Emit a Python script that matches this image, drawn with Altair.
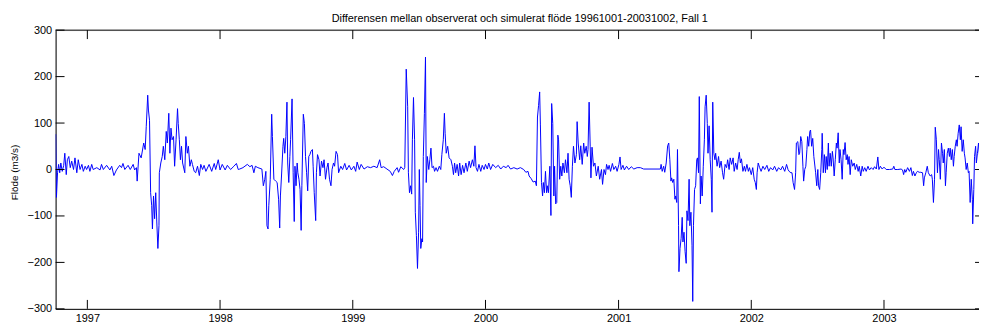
import altair as alt
import pandas as pd

chart_title = "Differensen mellan observerat och simulerat flöde 19961001-20031002, Fall 1"
y_label = "Flöde (m3/s)"
start_date = "1996-10-01"

# days since 1996-10-01
day_offsets = [
    5, 7, 10, 13, 16, 19, 23, 27, 30, 34, 37, 41, 45, 49, 54, 58, 63, 67, 72, 77, 81, 86, 90, 95, 99, 104, 108, 118, 127, 131,
    136, 145, 154, 159, 165, 172, 181, 186, 190, 195, 204, 210, 218, 222, 227, 229, 234, 240, 247, 251, 254, 258, 260, 263, 266,
    269, 271, 274, 277, 280, 283, 286, 289, 290, 294, 298, 301, 305, 309, 312, 316, 319, 322, 325, 329, 332, 336, 340, 342, 345,
    348, 351, 354, 360, 363, 367, 370, 374, 378, 381, 386, 390, 395, 400, 404, 409, 413, 418, 427, 434, 441, 445, 452, 457, 463,
    471, 477, 486, 495, 502, 507,
    511, 520, 532, 539, 545, 550, 554, 561, 572, 576, 580, 583, 586, 589, 591, 595, 599, 601, 605, 610, 614, 618, 621, 623, 626,
    630, 632, 635, 638, 641, 643, 646, 649, 651, 655, 658, 661, 663, 666, 669, 671, 674, 677, 680, 682, 686, 689, 692, 695, 698,
    701, 704, 707, 711, 713, 716, 720, 722, 725, 729, 732, 736, 740, 743, 747, 751, 754, 758, 762, 765, 769, 772, 776, 780, 783,
    789, 794, 800, 805, 812, 818, 825, 830, 834, 840, 845, 853, 862, 871, 880, 889, 896, 900, 907, 916, 925, 931, 936, 944, 948,
    954, 962, 965, 969, 973, 975, 978, 981, 984, 986, 989, 992, 994, 997, 1000, 1003, 1005, 1007, 1009, 1012, 1014, 1016, 1019,
    1022, 1024,
    1027, 1031, 1034, 1037, 1040, 1044, 1047, 1051, 1055, 1060, 1064, 1067, 1071, 1074, 1076, 1079, 1083, 1087, 1092, 1096, 1099,
    1102, 1105, 1109, 1113, 1116, 1120, 1124, 1128, 1133, 1137, 1142, 1146, 1151, 1155, 1158, 1161, 1165, 1169, 1174, 1178, 1183,
    1187, 1192, 1196, 1201, 1207, 1215, 1222, 1229, 1236, 1244, 1249, 1256, 1265, 1274, 1283, 1292, 1298, 1304, 1307, 1313, 1318,
    1324, 1327, 1330, 1333, 1336, 1338, 1341, 1344, 1346, 1349, 1352, 1355, 1357, 1360, 1364, 1367, 1369, 1372, 1375, 1377, 1380,
    1383, 1386, 1388, 1391, 1394, 1397, 1400, 1404, 1407, 1411, 1414, 1417, 1420, 1423, 1426, 1429, 1433, 1437, 1439, 1442, 1446,
    1449, 1453, 1457, 1460, 1464, 1467, 1469, 1472, 1475, 1477, 1480, 1484, 1488, 1492, 1497, 1501, 1506, 1509, 1513, 1517, 1520,
    1524,
    1527, 1531, 1536, 1540, 1545, 1549, 1554, 1557, 1560, 1565, 1569, 1575, 1581, 1588, 1595, 1604, 1613, 1622, 1668, 1670, 1673,
    1677, 1680, 1684, 1688, 1691, 1694, 1697, 1699, 1702, 1705, 1708, 1710, 1713, 1715, 1718, 1719, 1722, 1725, 1728, 1730, 1733,
    1736, 1739, 1741, 1744, 1747, 1749, 1752, 1755, 1757, 1759, 1762, 1765, 1768, 1770, 1773, 1775, 1778, 1780, 1783, 1786, 1789,
    1791, 1794, 1797, 1799, 1802, 1805, 1808, 1810, 1812, 1815, 1818, 1820, 1824, 1828, 1831, 1835, 1839, 1842, 1846, 1850, 1853,
    1857, 1860, 1864, 1868, 1871, 1875, 1879, 1882, 1885, 1888, 1891, 1895, 1899, 1902, 1906, 1910, 1913, 1918, 1922, 1926, 1929,
    1932, 1934, 1937, 1941, 1945, 1950, 1955, 1961, 1966, 1971, 1977, 1982, 1988, 1993, 1999, 2004, 2010, 2015, 2019, 2022, 2027,
    2030, 2033, 2037, 2040, 2042, 2046, 2049, 2051, 2054, 2057, 2060, 2062, 2065, 2068, 2071, 2073, 2076, 2079, 2081, 2084, 2087,
    2090, 2092, 2095, 2098, 2101, 2103, 2106, 2109, 2112, 2113, 2116, 2119, 2122, 2124, 2127, 2130, 2132, 2135, 2138, 2141, 2143,
    2146, 2149, 2152, 2154, 2157, 2160, 2162, 2165, 2168, 2171, 2173, 2176, 2179, 2182, 2184, 2187, 2190, 2193, 2197, 2201, 2204,
    2208, 2212, 2215, 2219, 2223, 2226, 2230, 2234, 2239, 2243, 2248, 2253, 2257, 2262, 2266, 2269, 2273, 2278, 2283, 2289, 2298,
    2307, 2310, 2313, 2321, 2330, 2334, 2337, 2340, 2343, 2348, 2353, 2357, 2361, 2364, 2368, 2372, 2375, 2380, 2384, 2389, 2392,
    2394, 2398, 2402, 2405, 2410, 2414, 2416, 2419, 2422, 2424, 2427, 2430, 2433, 2435, 2438, 2441, 2444, 2446, 2449, 2452, 2454,
    2457, 2460, 2463, 2465, 2468, 2471, 2474, 2476, 2479, 2482, 2484, 2487, 2490, 2493, 2495, 2498, 2501, 2504, 2506, 2509, 2512,
    2515, 2517, 2520, 2523, 2526, 2527, 2530, 2532, 2535, 2537, 2540, 2543, 2546, 2550, 2556,
]

# observed - simulated flow (m3/s)
diff_values = [
    76, -60, -7, 11, -7, 14, -4, 9, 35, -11, 21, 28, 4, 18, 0, 25, -7, 21, 0, 11, -4, 7, 0, 9, -4, 11, 0, 4, -1, 11,
    0, 9, -1, 7, -13, -1, 9, 4, 13, 0, 9, 0, 11, -1, 4, -25, 35, 25, 57, 43, 92, 160, 128, 106, -50,
    -78, -128, -57, -106, -50, -113, -170, -121, -7, 14, 28, 50, 21, 82, 57, 121, 35, 89, 64, 71, 7, 64, 131, 99, 64,
    21, 50, 14, -7, 71, 35, 50, 7, 21, 11, -4, -7, 7, -13, 11, 0, 9, -4, 11, -4, 13, 0, 21, -1, 11,
    -1, 9, 0, 7, 13, 0,
    1, 4, 11, 6, 9, -7, 7, 4, 1, -35, -21, -4, -121, -128, -78, -21, 119, 71, -21, -25, -28, -64, -126, -57, -14,
    50, 67, 35, 71, 145, 14, -28, 28, 64, 152, -7, -112, 7, -35, 14, -7, -21, -43, -131, -35, 119, 99, 28, -7, -46,
    28, 32, 39, 43, 7, -50, -110, -7, 32, 21, -14, 18, 4, 21, -21, 4, 14, -21, -35, 0, 14, 7, 39, 32, -7,
    7, 0, 13, -1, 9, -1, 7, -4, 16, 0, 11, 1, 6, 4, 7, 4, 21, 4, 6, 1, -4, -13, -4, 4, -6,
    6, 0, 4, 216, 135, -7, -50, -35, -53, 64, 155, 64, -92, -142, -213, -135, 0, -78, -170, -149, -156, 28, 121,
    242, -28,
    28, 0, 21, 46, 4, 7, -4, 4, -4, 7, 0, 32, 64, 121, 78, 35, 50, 25, 21, 7, -11,
    14, -7, 11, -14, 14, -11, 9, -7, 14, -4, 18, 4, 21, 7, 51, 4, -4, 11, -4, 9, 0,
    11, 1, 14, 0, 11, 4, 9, 1, 7, 4, 9, 1, 4, 1, 4, 0, -6, -4, -14, -20, -27,
    -25, -35, 113, 138, 167, 96, -28, -57, -28, -50, -4, -50, -35, -50, 7, -99, 142, 99, -57, 7, -74,
    -71, 74, 64, -21, 7, -14, 14, -7, 21, -7, 35, -21, -35, -60, 7, 50, 14, 32, 103, 57, 21,
    51, 11, 57, 35, 50, 28, 43, 145, 50, -18, 48, 7, 14, -14, 7, -21, 0, -32, 0, -11, 11,
    0,
    9, -4, 13, 0, 7, -4, 11, 27, 0, 9, -1, 7, 0, 6, 1, 4, 4, 1, 1, 11, -4,
    7, -6, 14, 51, 57, 21, -25, -18, -28, -21, -64, -57, -71, 43, -121, -220, -170, -149, -103, -156, -135,
    -177, -202, -89, -110, -21, -121, -92, -163, -284, -121, -43, -35, 21, 25, -7, 157, -74, -14, -57, 7, 64,
    135, 160, 99, 35, 94, 21, -21, -92, 145, 35, 21, 35, 7, 28, 4, 18, -7, -21, 11, 4, 21,
    0, 25, 11, 25, -4, 14, 0, 21, 37, 14, 23, -4, 7, -4, 11, -4, 4, -11, 4, -21, -28,
    -43, -7, 14, 4, -4, 7, 0, 9, -4, 4, -1, 7, -4, 4, -1, 7, -4, 11, 0, -4, -7,
    -7, -28, -43, -7, 57, 60, 32, 35, 71, 60, 7, -25, 0, 7, 43, 71, 50, 82, 85, 50, 67,
    28, 14, -7, -35, 0, -35, -43, -7, 43, 78, -7, 32, -7, 28, 0, 57, 7, 35, 7, 39, 25,
    -14, 21, 57, 46, 79, 14, 43, 21, -21, 43, 32, 58, 21, 32, 11, 28, -11, 21, 7, 14, 0,
    11, -4, 7, -14, 7, -4, 4, -4, 7, -1, 4, 0, 6, 1, 27, 0, 7, 1, 5, 0, 0,
    1, 7, 0, 0, 1, -1, -11, 0, -6, 4, -4, 4, -13, -4, -14, -7, -4, -6, -6, -7, -35,
    -18, -7, 7, -7, -14, -11, -21, -71, -21, 91, 64, -7, 43, 21, -21, 57, 35, 14, 43, -35, -7,
    35, 46, 28, 46, 21, 43, 7, 28, 50, 64, 50, 78, 96, 64, 92, 39, 64, 35, 25, 0, 14,
    -7, -4, -71, -21, -64, -117, -43, 28, 50, 14, 35, 57, 28, 55, 20,
]

year_ticks = [1997, 1998, 1999, 2000, 2001, 2002, 2003]
y_ticks = [-300, -200, -100, 0, 100, 200, 300]

W, H = 931, 281
FONT = "Liberation Sans"

base = pd.Timestamp(start_date)
df = pd.DataFrame({
    "date": [base + pd.Timedelta(days=d) for d in day_offsets],
    "diff": diff_values,
})
xt = pd.DataFrame({"date": [pd.Timestamp(f"{y}-01-01") for y in year_ticks]})
yt = pd.DataFrame({"diff": y_ticks})

x_scale = alt.Scale(
    domain=[alt.DateTime(year=1996, month=10, date=5, hours=17),
            alt.DateTime(year=2003, month=9, date=19, hours=7)],
    nice=False,
)
y_scale = alt.Scale(domain=[-300, 300], nice=False)


def x_enc():
    return alt.X("date:T", scale=x_scale, title=None,
                 axis=alt.Axis(values=[alt.DateTime(year=y, month=1, date=1) for y in year_ticks],
                               format="%Y", labelOverlap=False))


def y_enc():
    return alt.Y("diff:Q", scale=y_scale, title=y_label,
                 axis=alt.Axis(values=y_ticks, titleX=-41, titleY=143, titleAngle=270,
                               titleAlign="center", titleBaseline="middle"))


line = alt.Chart(df).mark_line(color="#0000ff", strokeWidth=1, clip=True).encode(
    x=x_enc(), y=y_enc())

xb = alt.Chart(xt).mark_rule(color="black", strokeWidth=1).encode(
    x=x_enc(), y=alt.value(H - 9), y2=alt.value(H))
xtop = alt.Chart(xt).mark_rule(color="black", strokeWidth=1).encode(
    x=x_enc(), y=alt.value(0), y2=alt.value(9))
yl = alt.Chart(yt).mark_rule(color="black", strokeWidth=1).encode(
    y=y_enc(), x=alt.value(0), x2=alt.value(9))
yr = alt.Chart(yt).mark_rule(color="black", strokeWidth=1).encode(
    y=y_enc(), x=alt.value(W - 4), x2=alt.value(W))
top_border = alt.Chart(pd.DataFrame({"a": [0]})).mark_rule(color="black", strokeWidth=1).encode(
    x=alt.value(0), x2=alt.value(W), y=alt.value(0))
title_text = alt.Chart(pd.DataFrame({"t": [chart_title]})).mark_text(
    font=FONT, fontSize=11, color="black", align="center", baseline="alphabetic").encode(
    text="t:N", x=alt.value(468), y=alt.value(-8))

chart = alt.layer(line, xb, xtop, yl, yr, top_border, title_text).properties(
    width=W, height=H,
    autosize=alt.AutoSizeParams(type="none"),
    padding={"left": 48, "top": 21, "right": 0, "bottom": 21},
).configure_view(stroke=None).configure(background="white").configure_axis(
    ticks=False, grid=False, domain=True, domainColor="black", domainWidth=1,
    labelFontSize=11, labelColor="black", labelFont=FONT, labelPadding=4,
    titleFont=FONT, titleFontSize=10, titleFontWeight="normal", titleColor="black",
)

chart.save("out.html", embed_options={"renderer": "svg", "actions": False})
